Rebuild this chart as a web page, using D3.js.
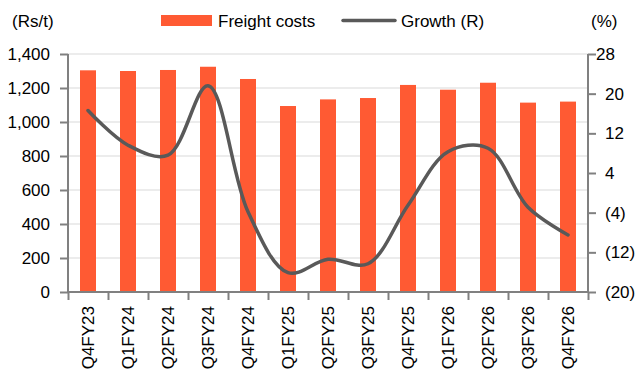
<!DOCTYPE html>
<html><head><meta charset="utf-8">
<script src="https://cdn.jsdelivr.net/npm/d3@7"></script>
<style>
body{margin:0;background:#fff;}
text{font-family:"Liberation Sans",Arial,sans-serif;fill:#000;}
</style></head>
<body><svg id="c" width="635" height="371"></svg>
<script>
const categories=["Q4FY23","Q1FY24","Q2FY24","Q3FY24","Q4FY24","Q1FY25","Q2FY25","Q3FY25","Q4FY25","Q1FY26","Q2FY26","Q3FY26","Q4FY26"];
const freightCosts=[1304,1300,1306,1325,1253,1094,1133,1141,1218,1190,1231,1114,1120];
const growth=[16.6,9.6,7.6,21.6,-3.8,-16.1,-13.4,-14.3,-2.5,8.3,9.0,-2.9,-8.5];
const leftTicks=[0,200,400,600,800,1000,1200,1400];
const rightTicks=[-20,-12,-4,4,12,20,28];

const svg=d3.select("#c");
const L=68,R=588,T=54,B=292;
const fs=17;
const x=d3.scaleBand().domain(categories).range([L,R]).paddingInner(0.6).paddingOuter(0.3);
const yL=d3.scaleLinear().domain([0,1400]).range([B,T]);
const yR=d3.scaleLinear().domain([-20,28]).range([B,T]);

// gridlines
svg.append("g").selectAll("line").data(leftTicks.filter(d=>d>0)).join("line")
  .attr("x1",L).attr("x2",R).attr("y1",d=>yL(d)).attr("y2",d=>yL(d))
  .attr("stroke","#D9D9D9").attr("stroke-width",1);

// bars
svg.append("g").selectAll("rect").data(freightCosts).join("rect")
  .attr("x",(d,i)=>x(categories[i])).attr("width",x.bandwidth())
  .attr("y",d=>yL(d)).attr("height",d=>B-yL(d)).attr("fill","#FF5A33");

// line
const line=d3.line().x((d,i)=>x(categories[i])+x.bandwidth()/2).y(d=>yR(d)).curve(d3.curveCatmullRom.alpha(0.5));
svg.append("path").datum(growth).attr("d",line).attr("fill","none")
  .attr("stroke","#595959").attr("stroke-width",3.5).attr("stroke-linecap","round");

// axes
const axisColor="#808080";
const gl=svg.append("g").attr("transform",`translate(${L},0)`)
  .call(d3.axisLeft(yL).tickValues(leftTicks).tickSize(8).tickPadding(10).tickFormat(d3.format(",")));
const gr=svg.append("g").attr("transform",`translate(${R},0)`)
  .call(d3.axisRight(yR).tickValues(rightTicks).tickSize(8).tickPadding(8).tickFormat(d=>d<0?`(${-d})`:`${d}`));
const xb=d3.scaleLinear().domain([0,categories.length]).range([L,R]);
const gb=svg.append("g").attr("transform",`translate(0,${B})`)
  .call(d3.axisBottom(xb).tickValues(d3.range(0,categories.length+1)).tickSize(8).tickFormat(""));
const gx=svg.append("g").attr("transform",`translate(0,${B})`)
  .call(d3.axisBottom(x).tickSize(0).tickPadding(0));
gx.selectAll(".tick text").attr("transform","rotate(-90)").attr("text-anchor","end")
  .attr("x",-14).attr("y",0).attr("dy","0.36em");
gx.select(".domain").remove();

[gl,gr,gb,gx].forEach(g=>{
  g.selectAll("text").style("font-size",fs+"px").style("font-family","'Liberation Sans',Arial,sans-serif").attr("fill","#000");
  g.selectAll("line").attr("stroke",axisColor).attr("stroke-width",2);
  g.select(".domain").attr("stroke",axisColor).attr("stroke-width",2);
});
gl.select(".domain").attr("d",`M0,${B}V${T}`);
gr.select(".domain").attr("d",`M0,${B}V${T}`);
gb.select(".domain").attr("d",`M${L},0H${R}`);
gr.selectAll(".tick text").attr("x",17);
gr.selectAll(".tick").filter(d=>d===28).select("text").attr("x",8);

// unit labels
svg.append("text").attr("x",12).attr("y",27).style("font-size",fs+"px").text("(Rs/t)");
svg.append("text").attr("x",591).attr("y",27).style("font-size",fs+"px").text("(%)");

// legend
svg.append("rect").attr("x",161).attr("y",15).attr("width",51).attr("height",11).attr("fill","#FF5A33");
svg.append("text").attr("x",218).attr("y",27).style("font-size",fs+"px").text("Freight costs");
svg.append("line").attr("x1",343).attr("x2",395).attr("y1",20.5).attr("y2",20.5)
  .attr("stroke","#595959").attr("stroke-width",3.5).attr("stroke-linecap","round");
svg.append("text").attr("x",401).attr("y",27).style("font-size",fs+"px").text("Growth (R)");
</script></body></html>
